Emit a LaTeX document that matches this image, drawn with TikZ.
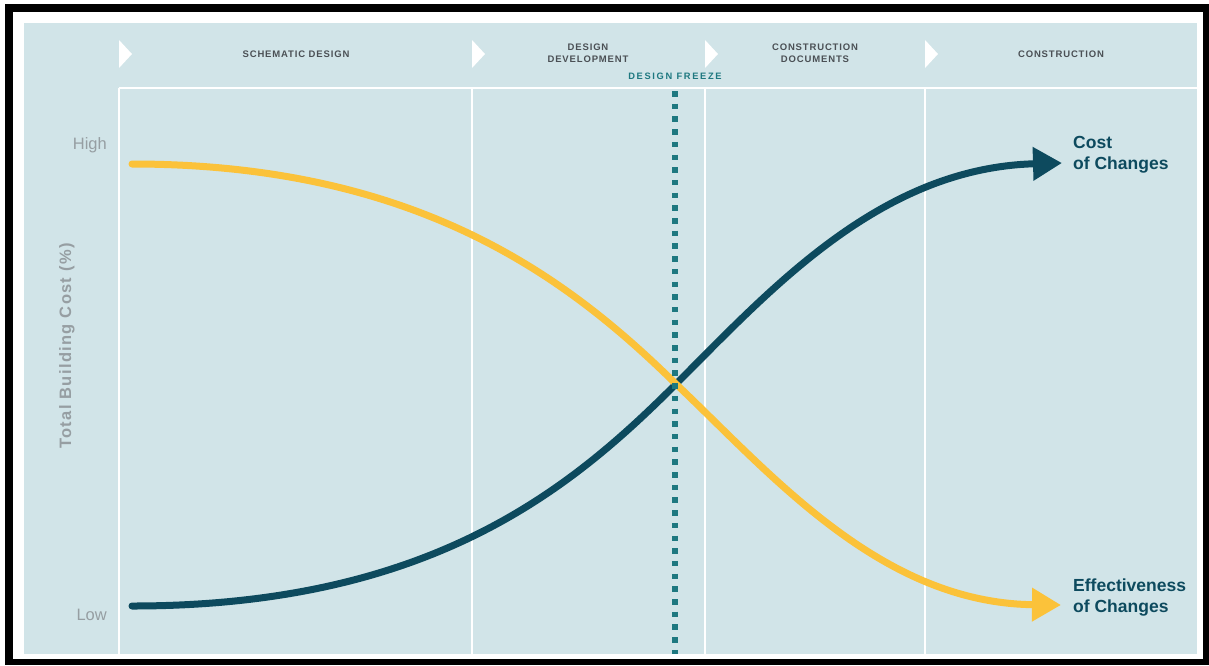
\documentclass[tikz,border=0pt]{standalone}
\usepackage{fontspec}
\setmainfont{Liberation Sans}
\newfontfamily\hdrfont[LetterSpace=9]{Liberation Sans}
\newfontfamily\frzfont[LetterSpace=18]{Liberation Sans}
\newfontfamily\axisfont[LetterSpace=8]{Liberation Sans}
\usetikzlibrary{arrows.meta}
\definecolor{bgblue}{RGB}{209,228,232}
\definecolor{darkteal}{RGB}{13,74,94}
\definecolor{curveyellow}{RGB}{251,194,58}
\definecolor{freezeteal}{RGB}{30,120,128}
\definecolor{graytext}{RGB}{150,158,162}
\definecolor{hdrtext}{RGB}{75,80,85}
\tikzset{
  hdrlabel/.style={text=hdrtext, font=\hdrfont\bfseries\fontsize{9.5}{12}\selectfont, align=center, inner sep=0pt},
  phasetri/.style={fill=white, draw=none},
  gridline/.style={draw=white, line width=1.3pt},
  curvelabel/.style={text=darkteal, font=\bfseries\fontsize{17.5}{21}\selectfont, align=left, anchor=west, inner sep=0pt},
  levellabel/.style={text=graytext, font=\fontsize{16.5}{20}\selectfont, anchor=east, inner sep=0pt},
  costcurve/.style={draw=darkteal, line width=7pt, line cap=round, -{Triangle[length=29pt,width=32pt]}},
  effcurve/.style={draw=curveyellow, line width=7pt, line cap=round, -{Triangle[length=29pt,width=32pt]}},
  freezeline/.style={draw=freezeteal, line width=5.5pt, dash pattern=on 5.5pt off 7.2pt},
}
\begin{document}
\begin{tikzpicture}[x=1pt,y=-1pt]
\useasboundingbox (0,0) rectangle (1209,665);
\fill[white] (0,0) rectangle (1209,665);
\fill[black] (5,4) rectangle (1209,665);
\fill[white] (13,12) rectangle (1203,659);
\fill[bgblue] (24,23) rectangle (1197,654);

% grid lines and phase markers
\draw[gridline] (119,88) -- (1197,88);
\foreach \gx in {119,472,705,925} {
  \draw[gridline] (\gx,88) -- (\gx,654);
  \fill[phasetri] (\gx,40) -- (\gx+13,54) -- (\gx,68) -- cycle;
}

% header labels
\node[hdrlabel] (sd) at (296,54) {SCHEMATIC DESIGN};
\node[hdrlabel] (dd) at (588,53) {DESIGN\\DEVELOPMENT};
\node[hdrlabel] (cd) at (815,53) {CONSTRUCTION\\DOCUMENTS};
\node[hdrlabel] (cn) at (1061,54) {CONSTRUCTION};
\node[text=freezeteal, font=\frzfont\bfseries\fontsize{9.3}{12}\selectfont, inner sep=0pt] (fz) at (675,76) {DESIGN FREEZE};

% axis labels
\node[levellabel] (high) at (107,145) {High};
\node[levellabel] (low) at (107,615) {Low};
\node[text=graytext, font=\axisfont\bfseries\fontsize{16.5}{20}\selectfont, rotate=90, inner sep=0pt] (ytitle) at (67,346) {Total Building Cost (\%)};

% curve coordinates
\coordinate (cstart) at (132,606);
\coordinate (cross) at (676,384);
\coordinate (cend) at (1062,163);
\coordinate (estart) at (132,164);
\coordinate (eend) at (1061,605);

\draw[costcurve] (cstart) .. controls (430,606) and (570,490) .. (cross) .. controls (770,290) and (880,168) .. (cend);
\draw[effcurve] (estart) .. controls (420,164) and (570,280) .. (cross) .. controls (770,473) and (880,603) .. (eend);

% design freeze line
\coordinate (ftop) at (675,91);
\coordinate (fbot) at (675,654);
\draw[freezeline] (ftop) -- (fbot);

% curve labels
\node[curvelabel] (costlbl) at (1073,155) {Cost\\of Changes};
\node[curvelabel] (efflbl) at (1073,598) {Effectiveness\\of Changes};
\end{tikzpicture}
\end{document}
